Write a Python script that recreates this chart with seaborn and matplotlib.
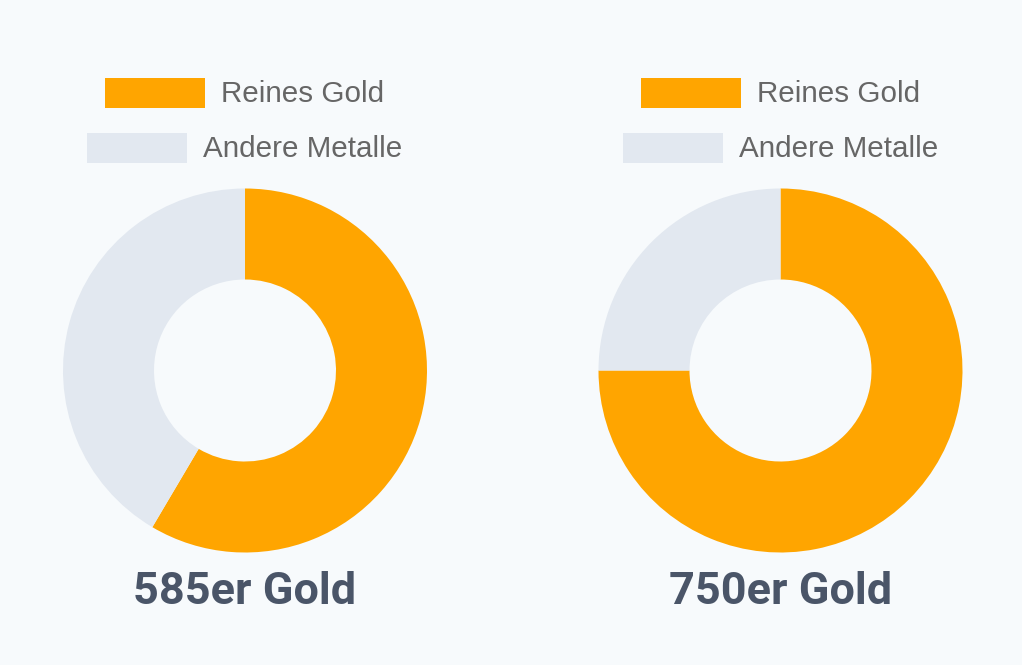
import matplotlib
matplotlib.use("Agg")
import matplotlib.pyplot as plt
import seaborn as sns
from matplotlib.patches import Rectangle

sns.set_theme(style="white")
plt.rcParams['font.family'] = ['Liberation Sans', 'DejaVu Sans']

# Data
charts = ["585er Gold", "750er Gold"]
labels = ["Reines Gold", "Andere Metalle"]
values_585 = [58.5, 41.5]
values_750 = [75.0, 25.0]
all_values = [values_585, values_750]
colors = ["#FFA500", "#E2E8F0"]

BG = "#F7FAFC"
W, H = 1022, 665
fig = plt.figure(figsize=(W / 100, H / 100), dpi=100, facecolor=BG)

centers_x = [245, 780.5]
center_y_top = 370.5
R = 182
legend_rows_y = [93, 148]
box_w, box_h, gap = 100, 30, 16
legend_fs = 21.3
title_y_top = 591.5

renderer = fig.canvas.get_renderer()

for cx, vals, title in zip(centers_x, all_values, charts):
    ax = fig.add_axes([(cx - R) / W, (H - center_y_top - R) / H, 2 * R / W, 2 * R / H])
    ax.set_facecolor(BG)
    ax.pie(vals, colors=colors, startangle=90, counterclock=False, radius=1,
           wedgeprops=dict(width=0.5, edgecolor="none", linewidth=0))
    ax.set_xlim(-1, 1)
    ax.set_ylim(-1, 1)
    ax.set_aspect("equal")
    ax.axis("off")

    # legend rows
    for lab, col, ry in zip(labels, colors, legend_rows_y):
        t = fig.text(0, 0, lab, fontsize=legend_fs, color="#666666", va="center", ha="left")
        tw = t.get_window_extent(renderer=renderer).width
        total = box_w + gap + tw
        x0 = cx - total / 2
        fig.patches.append(Rectangle((x0 / W, (H - ry - box_h / 2) / H), box_w / W, box_h / H,
                                     transform=fig.transFigure, facecolor=col, edgecolor="none"))
        t.set_position(((x0 + box_w + gap) / W, (H - ry - 1) / H))

    fig.text(cx / W, (H - title_y_top) / H, title, fontsize=32.4, fontweight="bold",
             color="#4A5568", ha="center", va="center", family=["Roboto", "DejaVu Sans"])

fig.savefig("out.png", dpi=100, facecolor=BG)
